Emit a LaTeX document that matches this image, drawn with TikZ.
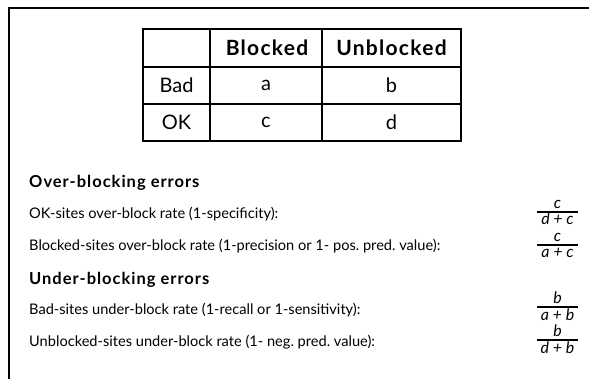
\documentclass[tikz,border=0pt]{standalone}
\usepackage{fontspec}
\setmainfont{Lato}
\newfontfamily\spacedfont[LetterSpace=6]{Lato}
\begin{document}
\begin{tikzpicture}[x=1pt,y=-1pt,
  frame/.style={line width=1.6pt},
  grid/.style={line width=1.4pt},
  cell/.style={font=\fontsize{20}{24}\selectfont},
  hcell/.style={font=\fontsize{21}{25}\spacedfont\bfseries},
  head/.style={anchor=base west,font=\fontsize{16.5}{20}\spacedfont\bfseries},
  txt/.style={anchor=base west,font=\fontsize{14.6}{18}\selectfont},
  frac/.style={anchor=base,inner sep=0pt,font=\fontsize{16}{18}\selectfont\itshape},
  bar/.style={line width=1.1pt}]
\useasboundingbox (0,0) rectangle (589,379);
% outer frame
\coordinate (ftr) at (589,8);
\coordinate (ftl) at (9,8);
\coordinate (fbl) at (9,379);
\draw[frame] (ftr) -- (ftl) -- (fbl);
% table
\coordinate (t00) at (143,29);
\coordinate (t11) at (461,141);
\draw[grid] (t00) rectangle (t11);
\coordinate (c1t) at (210,29); \coordinate (c1b) at (210,141);
\coordinate (c2t) at (322,29); \coordinate (c2b) at (322,141);
\coordinate (r1l) at (143,67); \coordinate (r1r) at (461,67);
\coordinate (r2l) at (143,104); \coordinate (r2r) at (461,104);
\draw[grid] (c1t) -- (c1b) (c2t) -- (c2b) (r1l) -- (r1r) (r2l) -- (r2r);
\node[hcell] (hb) at (267,48) {Blocked};
\node[hcell] (hu) at (391.5,48) {Unblocked};
\node[cell] (bad) at (176.5,85.5) {Bad};
\node[cell] (ok) at (176.5,122.5) {OK};
\node[cell] (a) at (266,85.5) {a};
\node[cell] (b) at (391.5,85.5) {b};
\node[cell] (c) at (266,122.5) {c};
\node[cell] (d) at (391.5,122.5) {d};
% texts
\node[head,inner sep=0pt] (over) at (29,188) {Over-blocking errors};
\node[txt,inner sep=0pt] (l1) at (29,218.5) {OK-sites over-block rate (1-specificity):};
\node[txt,inner sep=0pt] (l2) at (29,250.5) {Blocked-sites over-block rate (1-precision or 1- pos.\ pred.\ value):};
\node[head,inner sep=0pt] (under) at (29,285) {Under-blocking errors};
\node[txt,inner sep=0pt] (l3) at (29,315) {Bad-sites under-block rate (1-recall or 1-sensitivity):};
\node[txt,inner sep=0pt] (l4) at (29,346) {Unblocked-sites under-block rate (1- neg.\ pred.\ value):};
% fractions
\foreach \n/\y/\num/\den in {f1/212/c/d + c, f2/245/c/a + c, f3/307/b/a + b, f4/340/b/d + b}{
  \coordinate (\n l) at (537,\y);
  \coordinate (\n r) at (578,\y);
  \draw[bar] (\n l) -- (\n r);
  \node[frac] (\n n) at (557.5,\y-3) {\num};
  \node[frac] (\n d) at (557.5,\y+13) {\den};
}
\end{tikzpicture}
\end{document}
